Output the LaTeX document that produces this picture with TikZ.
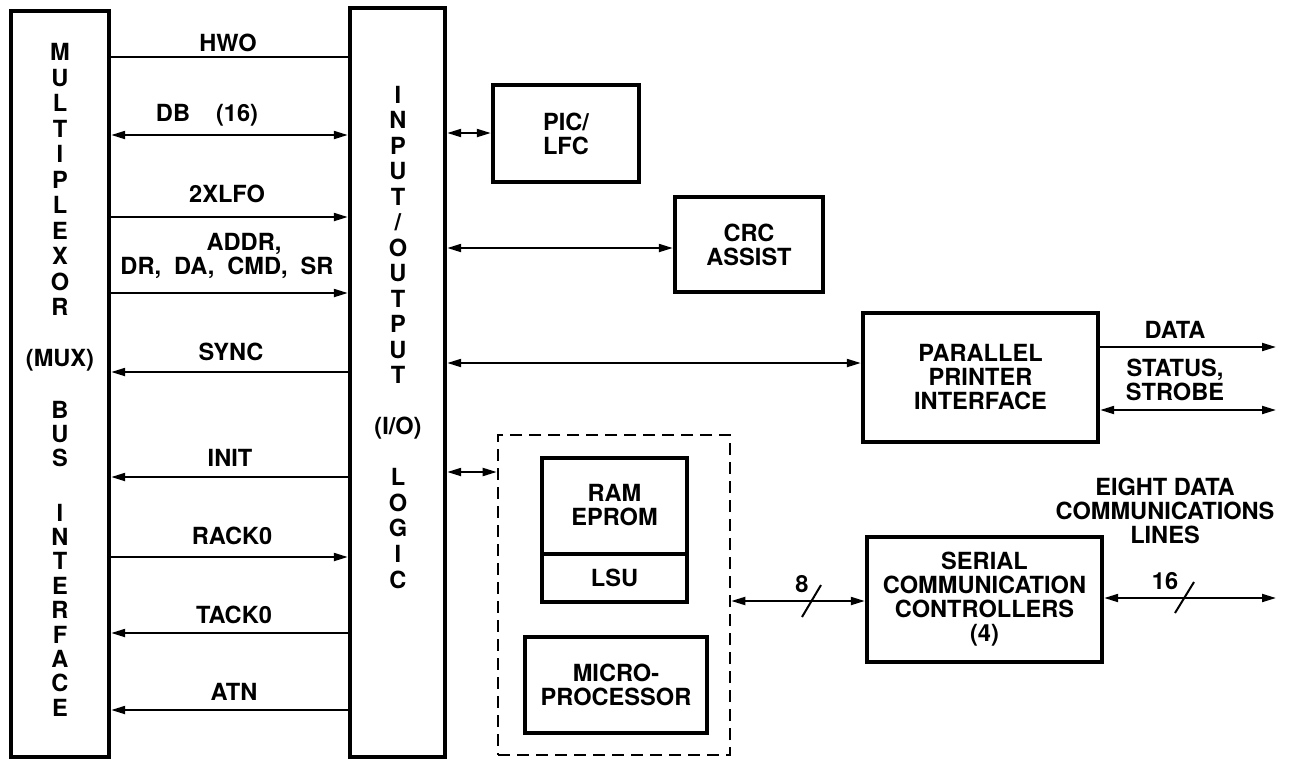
\documentclass[tikz,border=0pt]{standalone}
\usepackage{fontspec}
\setmainfont{TeX Gyre Heros}
\usetikzlibrary{arrows.meta}
\begin{document}
\begin{tikzpicture}[x=0.5pt,y=-0.5pt,
  every node/.style={inner sep=0pt},
  >={Triangle[length=7pt,width=4pt]},
  lbl/.style={font=\fontsize{11.8}{12}\selectfont\bfseries, align=center},
  blk/.style={draw, line width=2.2pt, font=\fontsize{11.8}{12}\selectfont\bfseries, align=center},
  inblk/.style={draw, line width=2pt, font=\fontsize{11.8}{12}\selectfont\bfseries, align=center},
  vtext/.style={align=center, font=\fontsize{11.8}{#1}\selectfont\bfseries},
  conn/.style={line width=1pt},
  dashbox/.style={draw, line width=1.3pt, dash pattern=on 6pt off 3.5pt},
  tick/.style={line width=1pt}]
\useasboundingbox (0,0) rectangle (1291,762);

% main blocks
\node[blk, minimum width=49pt, minimum height=373pt] (mux) at (60,384) {};
\node[blk, minimum width=47.5pt, minimum height=374.5pt] (io) at (397.5,382.5) {};
\node[blk, minimum width=73pt, minimum height=48.5pt] (pic) at (566,133.5) {PIC/\\LFC};
\node[blk, minimum width=74pt, minimum height=47.5pt] (crc) at (749,244.5) {CRC\\ASSIST};
\node[blk, minimum width=117.5pt, minimum height=64.5pt] (ppi) at (980.5,377.5) {PARALLEL\\PRINTER\\INTERFACE};
\node[blk, minimum width=117.5pt, minimum height=62.5pt] (ser) at (984.5,599.5) {SERIAL\\COMMUNICATION\\CONTROLLERS\\(4)};
\node[dashbox, minimum width=116pt, minimum height=160pt] (dsh) at (614,595) {};
\node[inblk, minimum width=72.5pt, minimum height=72pt] (ram) at (614.5,530) {};
\node[inblk, minimum width=91pt, minimum height=48pt] (mic) at (616,685) {MICRO-\\PROCESSOR};
\coordinate (ydiv) at (0,554);
\draw[line width=2pt] (ram.west |- ydiv) -- (ram.east |- ydiv);
\node[lbl] (tram) at (614.5,505) {RAM\\EPROM};
\node[lbl] (tlsu) at (614.5,578) {LSU};

% vertical texts
\node[vtext=12.75pt] (tmul) at (60,179.5) {M\\U\\L\\T\\I\\P\\L\\E\\X\\O\\R};
\node[lbl] (tmx) at (60,360) {(MUX)};
\node[vtext=12pt] (tbus) at (60,434) {B\\U\\S};
\node[vtext=12.2pt] (tint) at (60,610) {I\\N\\T\\E\\R\\F\\A\\C\\E};
\node[vtext=12.75pt] (tinp) at (398,235) {I\\N\\P\\U\\T\\/\\O\\U\\T\\P\\U\\T};
\node[lbl] (tio) at (398,428) {(I/O)};
\node[vtext=12.9pt] (tlog) at (398,528.5) {L\\O\\G\\I\\C};

% bus signal rows
\coordinate (yhwo) at (0,57);
\coordinate (ydb) at (0,135);
\coordinate (ylfo) at (0,217);
\coordinate (yadr) at (0,293);
\coordinate (ysyn) at (0,372);
\coordinate (yini) at (0,477);
\coordinate (yrck) at (0,557);
\coordinate (ytck) at (0,633);
\coordinate (yatn) at (0,710);
\draw[conn] (mux.east |- yhwo) -- (io.west |- yhwo);
\draw[conn,<->] (mux.east |- ydb) -- (io.west |- ydb);
\draw[conn,->] (mux.east |- ylfo) -- (io.west |- ylfo);
\draw[conn,->] (mux.east |- yadr) -- (io.west |- yadr);
\draw[conn,<-] (mux.east |- ysyn) -- (io.west |- ysyn);
\draw[conn,<-] (mux.east |- yini) -- (io.west |- yini);
\draw[conn,->] (mux.east |- yrck) -- (io.west |- yrck);
\draw[conn,<-] (mux.east |- ytck) -- (io.west |- ytck);
\draw[conn,<-] (mux.east |- yatn) -- (io.west |- yatn);
\node[lbl] (lhwo) at (228,43) {HWO};
\node[lbl] (ldb) at (207,115) {DB\hspace{13pt}(16)};
\node[lbl] (llfo) at (227,194) {2XLFO};
\node[lbl] (ladr) at (244,244) {ADDR,};
\node[lbl] (ldr) at (227,268) {DR,\hspace{6.5pt}DA,\hspace{6.5pt}CMD,\hspace{6.5pt}SR};
\node[lbl] (lsyn) at (231,352) {SYNC};
\node[lbl] (lini) at (230,458) {INIT};
\node[lbl] (lrck) at (232,536) {RACK0};
\node[lbl] (ltck) at (234,615) {TACK0};
\node[lbl] (latn) at (234,692) {ATN};

% right-hand connections
\coordinate (ypic) at (0,133);
\coordinate (ycrc) at (0,248);
\coordinate (yppi) at (0,363);
\coordinate (ydsh) at (0,472);
\coordinate (y8) at (0,601);
\coordinate (ydata) at (0,347);
\coordinate (ystat) at (0,410);
\coordinate (y16) at (0,598);
\coordinate (rx) at (1276,0);
\draw[conn,<->] (io.east |- ypic) -- (pic.west |- ypic);
\draw[conn,<->] (io.east |- ycrc) -- (crc.west |- ycrc);
\draw[conn,<->] (io.east |- yppi) -- (ppi.west |- yppi);
\draw[conn,<->] (io.east |- ydsh) -- (dsh.west |- ydsh);
\draw[conn,<->] (dsh.east |- y8) -- (ser.west |- y8);
\draw[conn,->] (ppi.east |- ydata) -- (rx |- ydata);
\draw[conn,<->] (ppi.east |- ystat) -- (rx |- ystat);
\draw[conn,<->] (ser.east |- y16) -- (rx |- y16);
\draw[tick] (802,617) -- (821,585);
\draw[tick] (1175,613) -- (1194,582);
\node[lbl] (l8) at (802,584) {8};
\node[lbl] (l16) at (1165,581) {16};
\node[lbl] (ldata) at (1175,330) {DATA};
\node[lbl] (lstat) at (1175,380) {STATUS,\\STROBE};
\node[lbl] (leight) at (1165,511) {EIGHT DATA\\COMMUNICATIONS\\LINES};
\end{tikzpicture}
\end{document}
